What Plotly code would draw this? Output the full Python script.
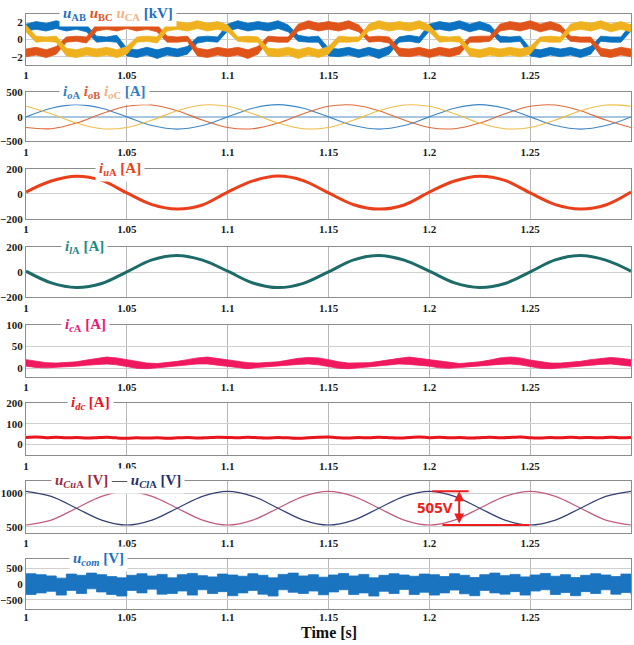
import plotly.graph_objects as go

# ---------------- data ----------------
T5 = [1.000,1.005,1.010,1.015,1.020,1.025,1.030,1.035,1.040,1.045,
      1.050,1.055,1.060,1.065,1.070,1.075,1.080,1.085,1.090,1.095,
      1.100,1.105,1.110,1.115,1.120,1.125,1.130,1.135,1.140,1.145,
      1.150,1.155,1.160,1.165,1.170,1.175,1.180,1.185,1.190,1.195,
      1.200,1.205,1.210,1.215,1.220,1.225,1.230,1.235,1.240,1.245,
      1.250,1.255,1.260,1.265,1.270,1.275,1.280,1.285,1.290,1.295,
      1.300]
T12 = [1.0,1.0125,1.025,1.0375,1.05,1.0625,1.075,1.0875,1.1,1.1125,1.125,1.1375,
       1.15,1.1625,1.175,1.1875,1.2,1.2125,1.225,1.2375,1.25,1.2625,1.275,1.2875,1.3]

X_TICKS = [1.0, 1.05, 1.1, 1.15, 1.2, 1.25, 1.3]
X_LABELS = ["1", "1.05", "1.1", "1.15", "1.2", "1.25", "1.3"]

# u_AB, u_BC, u_CA  [kV]  (upper / lower edge of the switching band)
UAB_UP = [1.8,2.1,1.9,2.2,1.9,2.1,1.7,0.4,0.3,0.5,
          -1.0,-1.2,-0.9,-1.2,-0.9,-1.1,-0.8,0.3,0.4,0.3,
          1.8,2.2,1.9,2.1,1.9,2.2,1.7,0.5,0.3,0.4,
          -1.0,-1.1,-0.9,-1.2,-0.9,-1.2,-0.8,0.3,0.5,0.3,
          1.8,2.1,1.9,2.2,1.8,2.1,1.7,0.4,0.3,0.4,
          -1.0,-1.2,-0.9,-1.1,-0.9,-1.2,-0.8,0.4,0.3,0.3,
          1.8]
UAB_LO = [1.0,1.2,1.0,1.3,1.0,1.2,0.9,-0.3,-0.2,-0.3,
          -1.9,-2.1,-1.8,-2.2,-1.8,-2.0,-1.7,-0.4,-0.2,-0.3,
          1.0,1.3,1.0,1.2,1.0,1.3,0.9,-0.2,-0.3,-0.3,
          -1.9,-2.0,-1.8,-2.1,-1.8,-2.2,-1.7,-0.3,-0.2,-0.4,
          1.0,1.2,1.0,1.3,0.9,1.2,0.9,-0.3,-0.3,-0.2,
          -1.9,-2.1,-1.8,-2.0,-1.8,-2.1,-1.7,-0.2,-0.3,-0.3,
          1.0]
UBC_UP = [-1.1,-0.9,-1.2,-0.8,0.3,0.4,0.3,1.8,2.1,1.9,
          2.2,1.9,2.1,1.7,0.4,0.3,0.4,-1.0,-1.2,-0.9,
          -1.1,-0.9,-1.2,-0.8,0.4,0.3,0.3,1.8,2.2,1.9,
          2.1,1.9,2.2,1.7,0.3,0.4,0.3,-1.0,-1.1,-0.9,
          -1.2,-0.9,-1.1,-0.8,0.3,0.4,0.4,1.8,2.1,1.9,
          2.2,1.8,2.1,1.7,0.4,0.3,0.3,-1.0,-1.2,-0.9,
          -1.1]
UBC_LO = [-2.0,-1.8,-2.1,-1.7,-0.3,-0.2,-0.4,1.0,1.2,1.0,
          1.3,1.0,1.2,0.9,-0.3,-0.3,-0.2,-1.9,-2.1,-1.8,
          -2.0,-1.8,-2.2,-1.7,-0.2,-0.3,-0.3,1.0,1.3,1.0,
          1.2,1.0,1.3,0.9,-0.3,-0.2,-0.4,-1.9,-2.0,-1.8,
          -2.1,-1.8,-2.0,-1.7,-0.3,-0.3,-0.2,1.0,1.2,1.0,
          1.3,0.9,1.2,0.9,-0.2,-0.3,-0.3,-1.9,-2.1,-1.8,
          -2.0]
UCA_UP = [1.7,0.4,0.3,0.4,-1.0,-1.2,-0.9,-1.1,-0.9,-1.2,
          -0.8,0.3,0.4,0.3,1.8,2.1,1.9,2.2,1.9,2.1,
          1.7,0.3,0.4,0.3,-1.0,-1.1,-0.9,-1.2,-0.9,-1.2,
          -0.8,0.4,0.3,0.3,1.8,2.2,1.9,2.1,1.9,2.2,
          1.7,0.4,0.3,0.4,-1.0,-1.2,-0.9,-1.1,-0.9,-1.1,
          -0.8,0.3,0.4,0.3,1.8,2.1,1.9,2.2,1.8,2.1,
          1.7]
UCA_LO = [0.9,-0.3,-0.2,-0.3,-1.9,-2.1,-1.8,-2.0,-1.8,-2.1,
          -1.7,-0.3,-0.2,-0.4,1.0,1.2,1.0,1.3,1.0,1.2,
          0.9,-0.2,-0.3,-0.3,-1.9,-2.0,-1.8,-2.2,-1.8,-2.1,
          -1.7,-0.3,-0.3,-0.2,1.0,1.3,1.0,1.2,1.0,1.3,
          0.9,-0.3,-0.2,-0.3,-1.9,-2.1,-1.8,-2.0,-1.8,-2.0,
          -1.7,-0.2,-0.3,-0.3,1.0,1.2,1.0,1.3,0.9,1.2,
          0.9]

# output currents [A]
I_OA = [0,177,250,177,0,-177,-250,-177, 0,177,250,177,0,-177,-250,-177,
        0,177,250,177,0,-177,-250,-177, 0]
I_OB = [-217,-241,-125,65,217,241,125,-65, -217,-241,-125,65,217,241,125,-65,
        -217,-241,-125,65,217,241,125,-65, -217]
I_OC = [217,65,-125,-241,-217,-65,125,241, 217,65,-125,-241,-217,-65,125,241,
        217,65,-125,-241,-217,-65,125,241, 217]
# arm currents [A]
I_UA = [15,103,142,108,8,-85,-120,-88, 15,104,143,107,8,-86,-121,-88,
        15,103,142,108,8,-85,-120,-88, 15]
I_LA = [10,-83,-120,-88,5,100,135,98, 10,-84,-121,-87,5,101,136,98,
        10,-83,-120,-88,5,100,135,98, 10]
# circulating current band [A]
I_CA_UP = [20,16,13,12,13,15,19,23,26,24,
           20,15,12,11,13,16,20,24,26,23,
           19,16,13,12,14,15,19,23,25,24,
           20,15,12,12,13,16,20,23,26,23,
           20,16,13,11,13,15,19,24,26,24,
           19,15,12,12,14,16,20,23,25,23,
           20]
I_CA_LO = [5,2,1,2,4,5,7,9,10,8,
           4,0,-1,1,3,5,8,10,10,7,
           5,1,-1,2,4,6,7,9,10,8,
           4,0,-1,1,3,5,8,10,9,7,
           5,1,0,2,4,5,7,9,10,8,
           4,0,-1,1,3,5,8,9,10,7,
           5]
# dc current [A]
I_DC = [34,36,33,35,32,34,31,33,35,32,
        30,32,31,33,30,32,34,31,33,35,
        34,32,35,33,31,34,32,30,33,35,
        36,33,31,34,32,35,33,31,34,36,
        33,35,32,34,31,33,35,32,34,36,
        33,31,34,32,35,33,34,32,35,33,
        34]
# capacitor voltages [V]
U_CUA = [528,602,780,958,1033,958,780,602, 528,602,780,958,1033,958,780,602,
         528,602,780,958,1033,958,780,602, 528]
U_CLA = [1033,958,780,602,528,602,780,958, 1033,958,780,602,528,602,780,958,
         1033,958,780,602,528,602,780,958, 1033]
# common-mode voltage band [V]
UCOM_UP = [330,300,260,190,320,280,350,300,240,200,
           280,330,260,310,200,300,340,270,230,320,
           290,250,330,280,200,310,350,260,300,220,
           290,340,260,310,200,280,330,290,250,320,
           300,240,330,280,210,300,350,270,310,230,
           290,340,250,300,210,280,330,290,240,320,
           330]
UCOM_LO = [-330,-280,-230,-350,-200,-300,-150,-250,-330,-380,
           -200,-280,-160,-320,-300,-220,-350,-180,-300,-240,
           -370,-280,-200,-320,-380,-180,-260,-300,-220,-340,
           -250,-180,-330,-280,-380,-230,-300,-170,-330,-260,
           -350,-280,-190,-310,-370,-200,-280,-320,-240,-350,
           -220,-180,-330,-270,-370,-240,-300,-180,-320,-270,
           -340]

for arr in [UAB_UP, UAB_LO, UBC_UP, UBC_LO, UCA_UP, UCA_LO, I_CA_UP, I_CA_LO,
            I_DC, UCOM_UP, UCOM_LO]:
    assert len(arr) == len(T5), len(arr)
for arr in [I_OA, I_OB, I_OC, I_UA, I_LA, U_CUA, U_CLA]:
    assert len(arr) == len(T12), len(arr)

# ---------------- styling ----------------
W, H = 634, 645
ML, MR = 25, 3
PANELS = [(8, 60), (88, 138), (166, 217), (246, 297), (325, 378), (405, 458), (484, 537), (563, 614)]
Y_RANGES = [[-2.95, 3.0], [-500, 500], [-200, 200], [-200, 200], [-20, 100], [-54, 200], [408, 1188], [-780, 815]]
Y_TICKS = [[-2, 0, 2], [-500, 0, 500], [-200, 0, 200], [-200, 0, 200], [0, 50, 100], [0, 100, 200], [500, 1000], [-500, 0, 500]]

BLUE = "#0a72c0"
ORANGE = "#e0541a"
YELLOW = "#efb21e"
SERIF = "Liberation Serif, Times New Roman, serif"

def pxx(px):
    return (px - ML) / (W - ML - MR)

def pxy(py):
    return 1 - py / H

fig = go.Figure()

def ax(i):
    return ("x" if i == 0 else f"x{i+1}", "y" if i == 0 else f"y{i+1}")

def line(i, x, y, color, width, shape="linear", smoothing=None):
    xa, ya = ax(i)
    ln = dict(color=color, width=width, shape=shape)
    if smoothing is not None:
        ln["smoothing"] = smoothing
    fig.add_trace(go.Scatter(x=x, y=y, mode="lines", line=ln, xaxis=xa, yaxis=ya,
                             showlegend=False, hoverinfo="skip"))

def band(i, x, up, lo, color, shape="linear", width=0.8):
    xa, ya = ax(i)
    fig.add_trace(go.Scatter(x=x, y=lo, mode="lines", line=dict(color=color, width=width, shape=shape),
                             xaxis=xa, yaxis=ya, showlegend=False, hoverinfo="skip"))
    fig.add_trace(go.Scatter(x=x, y=up, mode="lines", line=dict(color=color, width=width, shape=shape),
                             fill="tonexty", fillcolor=color,
                             xaxis=xa, yaxis=ya, showlegend=False, hoverinfo="skip"))

# panel 1
band(0, T5, UAB_UP, UAB_LO, BLUE)
band(0, T5, UBC_UP, UBC_LO, ORANGE)
band(0, T5, UCA_UP, UCA_LO, YELLOW)
# panel 2
line(1, T12, I_OA, "#3d86c6", 1.1, "spline", 1.0)
line(1, T12, I_OB, "#df6a3a", 1.1, "spline", 1.0)
line(1, T12, I_OC, "#f0bc4a", 1.1, "spline", 1.0)
# panel 3
line(2, T12, I_UA, "#ea3f1a", 3, "spline", 1.0)
# panel 4
line(3, T12, I_LA, "#1d6b68", 3, "spline", 1.0)
# panel 5
band(4, T5, I_CA_UP, I_CA_LO, "#f0185e")
# panel 6
line(5, T5, I_DC, "#e8141e", 3, "spline", 0.6)
# panel 7
line(6, T12, U_CUA, "#c25a7c", 1.2, "spline", 1.0)
line(6, T12, U_CLA, "#343f72", 1.2, "spline", 1.0)
# panel 8
band(7, T5, UCOM_UP, UCOM_LO, "#1a74c0", shape="hv", width=0.8)

layout = dict(width=W, height=H, margin=dict(l=ML, r=MR, t=0, b=0),
              paper_bgcolor="white", plot_bgcolor="white", showlegend=False)
tickfont = dict(family=SERIF, size=11, color="#1a1a1a", weight="bold")
for i, (top, bot) in enumerate(PANELS):
    n = "" if i == 0 else str(i + 1)
    layout["xaxis" + n] = dict(domain=[0, 1], anchor="y" + n, range=[1.0, 1.3],
                               tickmode="array", tickvals=X_TICKS, ticktext=X_LABELS,
                               showgrid=True, gridcolor="#b8b8b8", gridwidth=1,
                               showline=True, mirror=True, linecolor="#8c8c8c", linewidth=1,
                               ticks="", zeroline=False, tickfont=tickfont, fixedrange=True)
    layout["yaxis" + n] = dict(domain=[pxy(bot), pxy(top)], anchor="x" + n, range=Y_RANGES[i],
                               tickmode="array", tickvals=Y_TICKS[i],
                               showgrid=True, gridcolor="#cfcfcf", gridwidth=1,
                               showline=True, mirror=True, linecolor="#8c8c8c", linewidth=1,
                               ticks="", zeroline=False, tickfont=tickfont, fixedrange=True)
layout["yaxis2"]["zeroline"] = True
layout["yaxis2"]["zerolinecolor"] = "#a9c6e0"
layout["yaxis2"]["zerolinewidth"] = 2
layout["xaxis8"]["ticklabelstandoff"] = -2
fig.update_layout(**layout)

def sp(color, s):
    return f"<span style='color:{color}'>{s}</span>"

titles = [
    (58, 8, sp("#1f6fbf", "<i>u</i><sub>AB</sub>") + " " + sp("#e0541a", "<i>u</i><sub>BC</sub>") + " "
     + sp("#f3b183", "<i>u</i><sub>CA</sub>") + " " + sp("#1f6fbf", "[kV]")),
    (58, 88, sp("#2f7fc4", "<i>i</i><sub><i>o</i>A</sub>") + " " + sp("#e05a38", "<i>i</i><sub><i>o</i>B</sub>") + " "
     + sp("#f3b183", "<i>i</i><sub><i>o</i>C</sub>") + " " + sp("#2f7fc4", "[A]")),
    (94, 166, sp("#e8401c", "<i>i</i><sub><i>u</i>A</sub> [A]")),
    (60, 246, sp("#1f8a86", "<i>i</i><sub><i>l</i>A</sub> [A]")),
    (60, 325, sp("#ea1678", "<i>i</i><sub><i>c</i>A</sub> [A]")),
    (66, 405, sp("#e8141e", "<i>i</i><sub><i>dc</i></sub> [A]")),
    (50, 484, sp("#9a2a40", "<i>u</i><sub><i>Cu</i>A</sub> [V]") + " " + sp("#555555", "—") + " "
     + sp("#24306a", "<i>u</i><sub><i>Cl</i>A</sub> [V]")),
    (68, 563, sp("#1f6fbf", "<i>u</i><sub><i>com</i></sub> [V]")),
]
for x, y, txt in titles:
    fig.add_annotation(x=pxx(x), y=pxy(y), xref="paper", yref="paper", xanchor="left", yanchor="middle",
                       text="<b>" + txt + "</b>", showarrow=False, bgcolor="white", borderpad=3,
                       font=dict(family=SERIF, size=15))

fig.add_annotation(x=pxx(328), y=pxy(638), xref="paper", yref="paper", xanchor="center", yanchor="middle",
                   text="<b>Time [s]</b>", showarrow=False,
                   font=dict(family=SERIF, size=16, color="#111111"))

# 505 V marker (panel 7), levels taken from the data
vmax = max(U_CLA)
vmin = min(U_CUA)
fig.add_shape(type="line", xref="x7", yref="y7", x0=1.2015, x1=1.2195, y0=vmax, y1=vmax,
              line=dict(color="#ee1c1c", width=2))
fig.add_shape(type="line", xref="x7", yref="y7", x0=1.2065, x1=1.2495, y0=vmin, y1=vmin,
              line=dict(color="#ee1c1c", width=2))
fig.add_annotation(x=1.2148, y=vmax, ax=1.2148, ay=vmin, xref="x7", yref="y7", axref="x7", ayref="y7",
                   text="", showarrow=True, arrowhead=2, arrowside="end+start", arrowsize=1,
                   arrowwidth=2, arrowcolor="#ee1c1c")
fig.add_annotation(x=1.2128, y=(vmax + vmin) / 2 + 20, xref="x7", yref="y7", xanchor="right",
                   text="<b>%dV</b>" % round(vmax - vmin), showarrow=False,
                   font=dict(family="Open Sans", size=15, color="#ee1c1c"))

fig.write_html("out.html", config={"displayModeBar": False},
               post_script="document.body.style.margin='0';document.body.style.overflow='hidden';")
